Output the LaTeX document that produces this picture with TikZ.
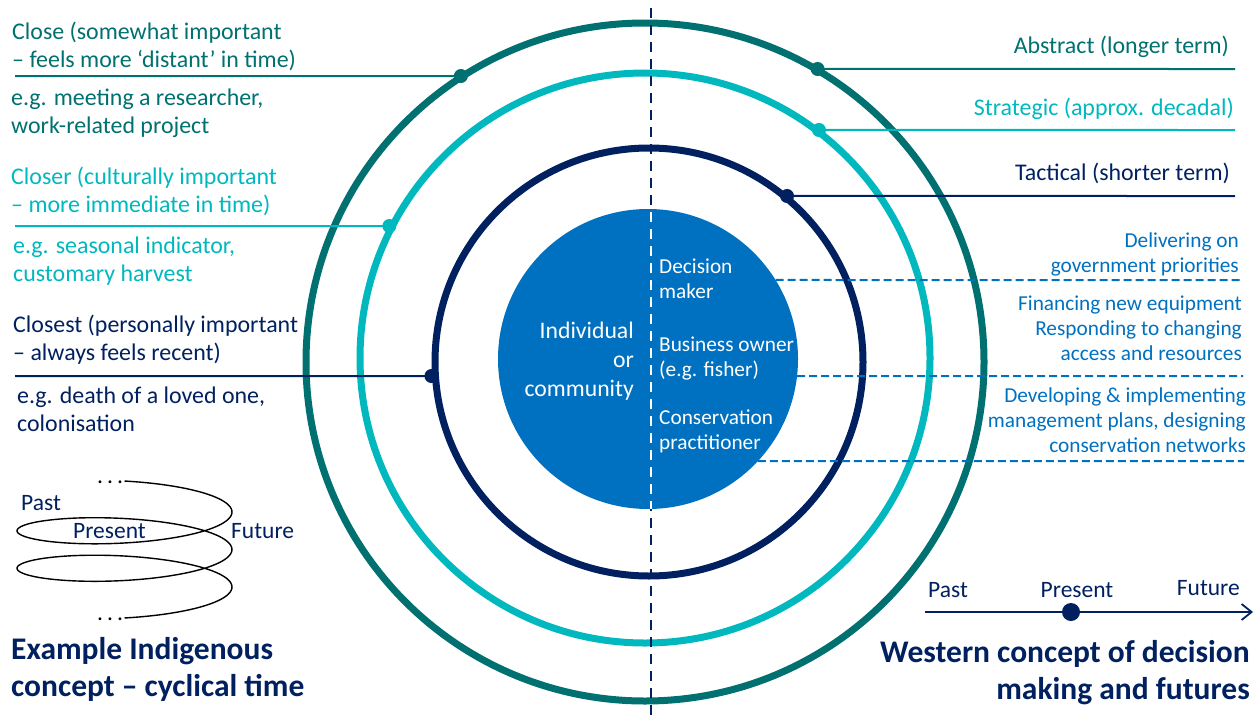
\documentclass[tikz,border=0pt]{standalone}
\usepackage{fontspec}
\setmainfont{Carlito}
\usetikzlibrary{intersections,arrows.meta}
\definecolor{cteal}{RGB}{0,112,112}
\definecolor{ccyan}{RGB}{0,184,190}
\definecolor{cnavy}{HTML}{002060}
\definecolor{cblue}{HTML}{0070C0}
\begin{document}
\begin{tikzpicture}[x=1pt,y=-1pt,
  ring/.style={line width=7pt},
  conn/.style={line width=2pt},
  vdash/.style={line width=2.2pt, dash pattern=on 10pt off 7pt},
  bdash/.style={cblue, line width=2pt, dash pattern=on 8pt off 4pt},
  lt/.style={font=\fontsize{23.9}{28}\selectfont, inner sep=0pt, align=left, anchor=north west, execute at begin node=\strut},
  rt/.style={font=\fontsize{23.9}{28}\selectfont, inner sep=0pt, align=right, anchor=north east, execute at begin node=\strut},
  bt/.style={font=\fontsize{21.3}{25}\selectfont, inner sep=0pt, align=right, anchor=north east, text=cblue, execute at begin node=\strut},
  wl/.style={font=\fontsize{21.3}{25}\selectfont, inner sep=0pt, align=left, anchor=north west, text=white, execute at begin node=\strut},
  wr/.style={font=\fontsize{23.7}{29}\selectfont, inner sep=0pt, align=right, anchor=north east, text=white, execute at begin node=\strut},
  st/.style={font=\fontsize{23.5}{28}\selectfont, inner sep=0pt, text=cnavy},
  hd/.style={font=\fontsize{31.5}{37}\selectfont\bfseries, inner sep=0pt, text=cnavy, execute at begin node=\strut},
  ldot/.style={circle, inner sep=0pt, minimum size=14pt}
]
\useasboundingbox (0,0) rectangle (1260,720);
\coordinate (C) at (645,362);
\coordinate (CM) at (645,358);
\coordinate (CN) at (649,362);
\coordinate (F) at (648,359);

% rings
\draw[ring, cteal, name path=outer] (C) circle[radius=339];
\draw[ring, ccyan, name path=mid] (CM) circle[radius=285];
\draw[ring, cnavy, name path=inner] (CN) circle[radius=214];

% vertical dashed divider
\coordinate (vt) at (651,8);
\coordinate (vb) at (651,720);
\draw[vdash, cnavy] (vt) -- (vb);

% core
\fill[cblue, name path=core] (F) circle[radius=150];
\begin{scope}
  \clip (F) circle[radius=150];
  \draw[vdash, white] (vt) -- (vb);
\end{scope}

% left connectors
\coordinate (s1) at (15,76);
\coordinate (s2) at (15,226);
\coordinate (s3) at (15,376);
\path[name path=h1] (s1) -- (645,76);
\path[name path=h2] (s2) -- (645,226);
\path[name path=h3] (s3) -- (645,376);
\path[name intersections={of=outer and h1, by=d1}];
\path[name intersections={of=mid and h2, by=d2}];
\path[name intersections={of=inner and h3, by=d3}];
\draw[conn, cteal] (s1) -- (d1);
\draw[conn, ccyan] (s2) -- (d2);
\draw[conn, cnavy] (s3) -- (d3);
\node[ldot, fill=cteal] (p1) at ([xshift=-2pt]d1) {};
\node[ldot, fill=ccyan] (p2) at ([xshift=-3pt]d2) {};
\node[ldot, fill=cnavy] (p3) at ([xshift=-4pt]d3) {};

% right connectors
\coordinate (e4) at (1235,69);
\coordinate (e5) at (1235,130);
\coordinate (e6) at (1235,196);
\path[name path=h4] (645,69) -- (e4);
\path[name path=h5] (645,130) -- (e5);
\path[name path=h6] (645,196) -- (e6);
\path[name intersections={of=outer and h4, by=d4}];
\path[name intersections={of=mid and h5, by=d5}];
\path[name intersections={of=inner and h6, by=d6}];
\draw[conn, cteal] (d4) -- (e4);
\draw[conn, ccyan] (d5) -- (e5);
\draw[conn, cnavy] (d6) -- (e6);
\node[ldot, fill=cteal] (p4) at ([xshift=2pt]d4) {};
\node[ldot, fill=ccyan] (p5) at ([xshift=3pt]d5) {};
\node[ldot, fill=cnavy] (p6) at ([xshift=3pt]d6) {};

% blue dashed separators
\coordinate (e7) at (1241,280);
\coordinate (e8) at (1243,376);
\coordinate (e9) at (1244,461);
\path[name path=h7] (648,280) -- (e7);
\path[name path=h8] (648,376) -- (e8);
\path[name path=h9] (648,461) -- (e9);
\path[name intersections={of=core and h7, by=d7}];
\path[name intersections={of=core and h8, by=d8}];
\path[name intersections={of=core and h9, by=d9}];
\draw[bdash] (d7) -- (e7);
\draw[bdash] (d8) -- (e8);
\draw[bdash] (d9) -- (e9);

% left texts
\node[lt, text=cteal] (tClose) at (12,21.4) {Close (somewhat important\\– feels more ‘distant’ in time)};
\node[lt, text=cteal] (tEg1) at (11,88.4) {e.g. meeting a researcher,\\work-related project};
\node[lt, text=ccyan] (tCloser) at (11,166.4) {Closer (culturally important\\– more immediate in time)};
\node[lt, text=ccyan] (tEg2) at (13,236.4) {e.g. seasonal indicator,\\customary harvest};
\node[lt, text=cnavy] (tClosest) at (13,315) {Closest (personally important\\– always feels recent)};
\node[lt, text=cnavy] (tEg3) at (17,387) {e.g. death of a loved one,\\colonisation};

% right texts
\node[rt, text=cteal] (tAbs) at (1229,33.4) {Abstract (longer term)};
\node[rt, text=ccyan] (tStr) at (1234,95.4) {Strategic (approx. decadal)};
\node[rt, text=cnavy] (tTac) at (1230,160.4) {Tactical (shorter term)};
\node[bt] (tDel) at (1239,232.5) {Delivering on\\government priorities};
\node[bt] (tFin) at (1242,295.5) {Financing new equipment\\Responding to changing\\access and resources};
\node[bt] (tDev) at (1246,387.5) {Developing \& implementing\\management plans, designing\\conservation networks};

% core texts
\node[wr] (tInd) at (634,321.7) {Individual\\or\\community};
\node[wl] (tDec) at (659,258.5) {Decision\\maker};
\node[wl] (tBus) at (659,336.5) {Business owner\\(e.g. fisher)};
\node[wl] (tCon) at (659,409.5) {Conservation\\practitioner};

% cyclical time spiral
\draw[line width=1.4pt, black] plot[domain=-90:810, samples=240, smooth]
  ({124.5+107.5*cos(\x)},{512+21.6*sin(\x)+0.10417*\x});
\node[st, anchor=base west, text=black] (dTop) at (97,483) {.\kern4pt.\kern4pt.};
\node[st, anchor=base west, text=black] (dBot) at (97,620) {.\kern4pt.\kern4pt.};
\node[st, anchor=base west] (cPast) at (21,510) {Past};
\node[st, anchor=base west] (cPres) at (73,538) {Present};
\node[st, anchor=base west] (cFut) at (231,538) {Future};

% linear timeline
\coordinate (tp) at (925,612);
\coordinate (tf) at (1253,612);
\draw[cnavy, line width=1.8pt, -{Straight Barb[length=10pt,width=16pt]}] (tp) -- (tf);
\node[circle, fill=cnavy, inner sep=0pt, minimum size=18pt] (tnow) at (1071,612) {};
\node[st, anchor=base west] (lPast) at (928,597) {Past};
\node[st, anchor=base] (lPres) at (1077,597) {Present};
\node[st, anchor=base east] (lFut) at (1240,595) {Future};

% headings
\node[hd, align=left, anchor=north west] (hInd) at (11,637) {Example Indigenous\\concept – cyclical time};
\node[hd, align=right, anchor=north east] (hWes) at (1250,640) {Western concept of decision\\making and futures};
\end{tikzpicture}
\end{document}
